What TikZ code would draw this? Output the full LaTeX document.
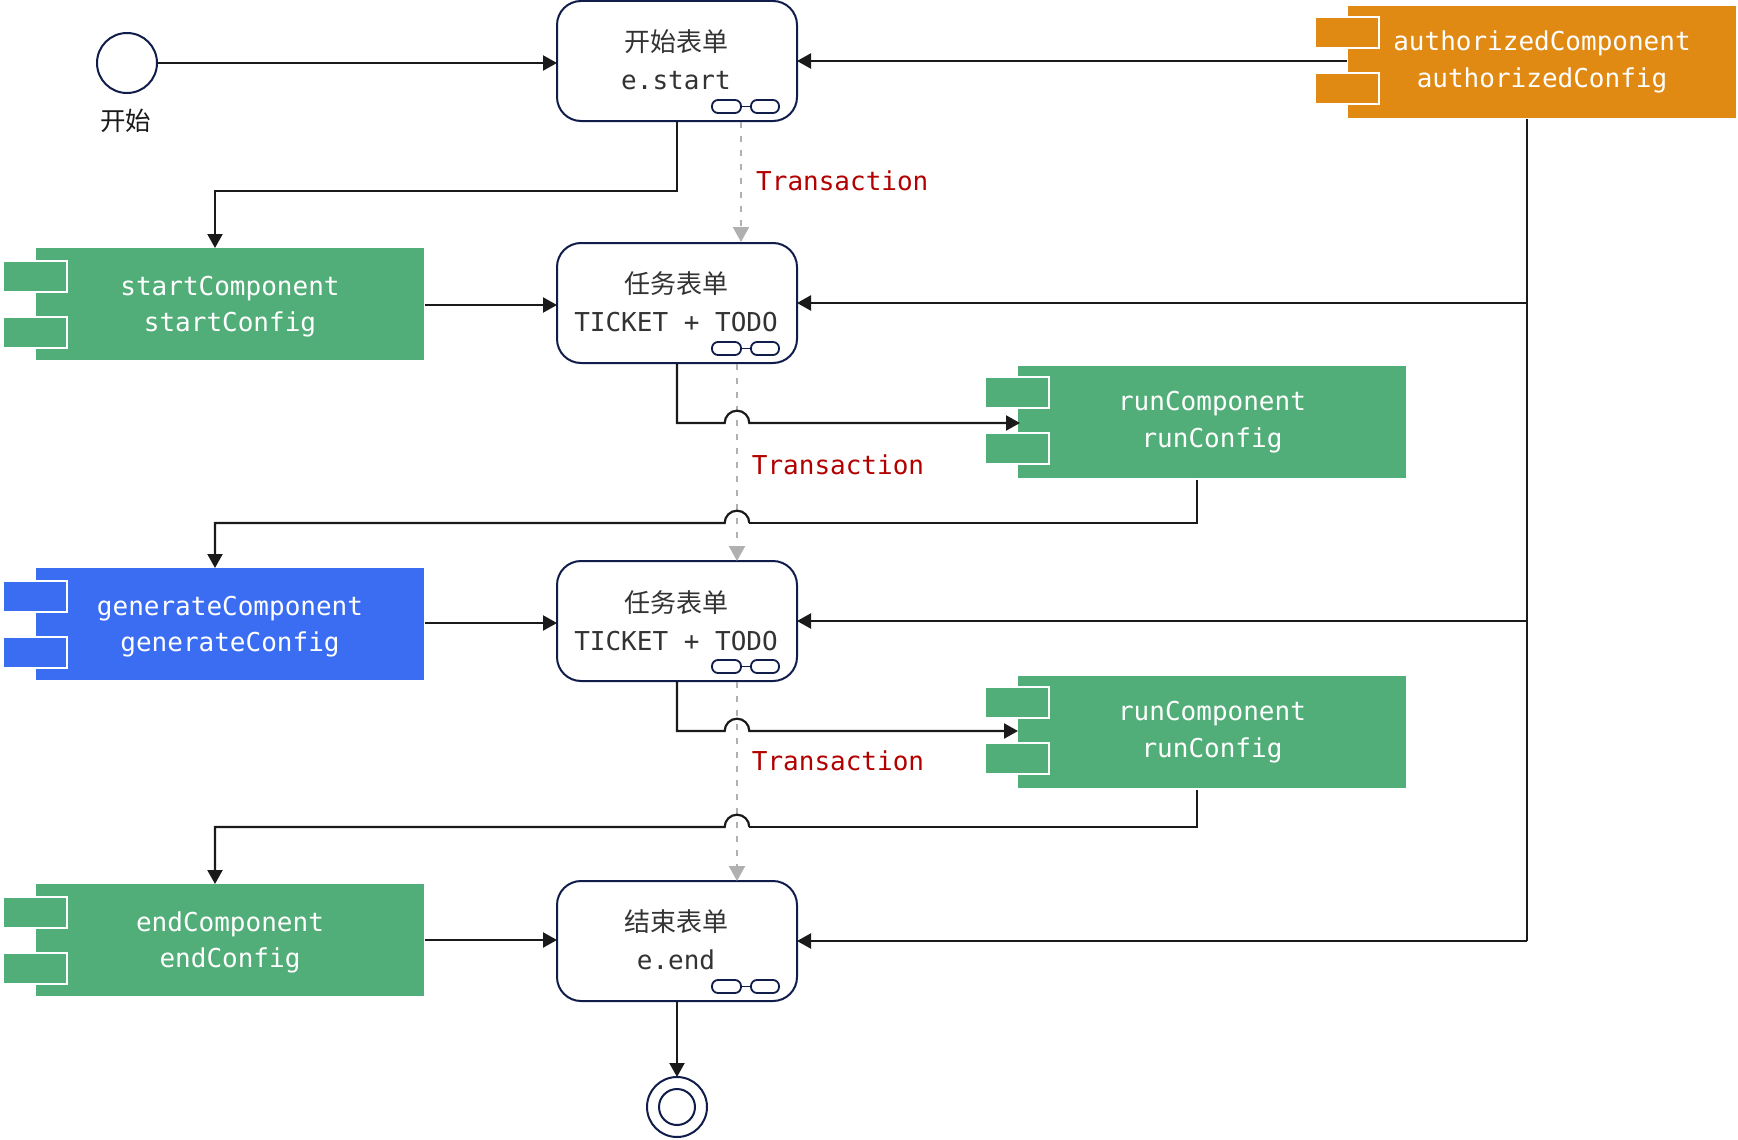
\documentclass[tikz,border=0pt]{standalone}
\usepackage{fontspec}
\setmainfont{DejaVu Sans Mono}
\newfontfamily\cjk{Noto Sans CJK SC}
\usetikzlibrary{arrows.meta}
\definecolor{navy}{HTML}{101D4B}
\definecolor{ink}{HTML}{1A1A1A}
\definecolor{greyline}{HTML}{B0B0B0}
\definecolor{txt}{HTML}{333333}
\definecolor{redtxt}{HTML}{B20000}
\definecolor{cgreen}{HTML}{52AE78}
\definecolor{cblue}{HTML}{3A6DF2}
\definecolor{corange}{HTML}{E08A14}
\newcommand\twolines[3][6]{\rule{0pt}{24.5pt}#2\\#3\rule[-#1pt]{0pt}{#1pt}}
\newcommand\tasklines[3][6]{\rule{0pt}{24.5pt}{\cjk #2}\kern2pt\\#3\kern2pt\rule[-#1pt]{0pt}{#1pt}}
\tikzset{
  x=1pt,y=1pt,
  taskfont/.style={font=\fontsize{26}{38}\selectfont},
  compfont/.style={font=\fontsize{26}{36.5}\selectfont},
  taskbox/.style={draw=navy,line width=2pt,fill=white,rounded corners=24pt,minimum width=240pt,minimum height=120pt,inner sep=0pt,outer sep=0pt,align=center,text=txt,taskfont},
  compmain/.style={fill=#1,minimum width=388pt,minimum height=112pt,inner sep=0pt,outer sep=0pt,align=center,text=white,compfont},
  compport/.style={fill=#1,draw=white,line width=2pt,minimum width=64pt,minimum height=31pt,inner sep=0pt,outer sep=0pt},
  conn/.style={draw=ink,line width=2.2pt,-{Triangle[length=14pt,width=15pt]}},
  plainconn/.style={draw=ink,line width=2.2pt},
  tx/.style={draw=greyline,line width=2.2pt,dash pattern=on 6pt off 8pt,-{Triangle[length=15pt,width=16pt,color=greyline,sep=0pt]}},
  txlabel/.style={anchor=base west,text=redtxt,inner sep=0pt,compfont},
  circ/.style={draw=navy,line width=2pt,fill=white,circle,inner sep=0pt,outer sep=0pt},
  iconlink/.style={draw=navy,line width=1.8pt,rounded corners=6pt},
  link/.style={draw=navy,line width=1.8pt}
}
% name, left x, top y, colour, port offset, text
\newcommand\compnode[6]{%
  \node[compmain=#4] (#1) at (#2+194,-#3-56) {#6};
  \node[compport=#4] (#1p1) at (#2-1,-#3-#5) {};
  \node[compport=#4] (#1p2) at (#2-1,-#3-56-#5) {};
}
\newcommand\linkicon[1]{%
  \draw[iconlink] ([shift={(35,8)}]#1.south) rectangle ([shift={(64,21)}]#1.south);
  \draw[iconlink] ([shift={(74,8)}]#1.south) rectangle ([shift={(102,21)}]#1.south);
  \draw[link] ([shift={(64,14.5)}]#1.south) -- ([shift={(74,14.5)}]#1.south);
}
\begin{document}
\begin{tikzpicture}
\useasboundingbox (0,0) rectangle (1738,-1140);
% task boxes
\node[taskbox] (b1) at (677,-61) {\tasklines{开始表单}{e.start}};
\node[taskbox] (b2) at (677,-303) {\tasklines{任务表单}{TICKET + TODO}};
\node[taskbox] (b3) at (677,-621) {\tasklines[2.6]{任务表单}{TICKET + TODO}};
\node[taskbox] (b4) at (677,-941) {\tasklines{结束表单}{e.end}};
\linkicon{b1}\linkicon{b2}\linkicon{b3}\linkicon{b4}
% transaction links
\coordinate (tA1) at (741,-122);
\coordinate (tB1) at (741,-242);
\coordinate (tA2) at (737,-364);
\coordinate (tB2) at (737,-561);
\coordinate (tA3) at (737,-682);
\coordinate (tB3) at (737,-881);
\draw[tx] (tA1) -- (tB1);
\draw[tx] (tA2) -- (tB2);
\draw[tx] (tA3) -- (tB3);
% components
\compnode{start}{36}{248}{cgreen}{28.7}{\twolines{startComponent}{startConfig}}
\compnode{gen}{36}{568}{cblue}{28.7}{\twolines{generateComponent}{generateConfig}}
\compnode{endc}{36}{884}{cgreen}{28.7}{\twolines{endComponent}{endConfig}}
\compnode{run1}{1018}{366}{cgreen}{26.7}{\twolines[10.6]{runComponent}{runConfig}}
\compnode{run2}{1018}{676}{cgreen}{26.7}{\twolines[10.6]{runComponent}{runConfig}}
\compnode{auth}{1348}{6}{corange}{26.7}{\twolines[10.6]{authorizedComponent}{authorizedConfig}}
% start / end events
\node[circ,minimum size=60pt] (s) at (127,-63) {};
\node[text=ink,inner sep=0pt,font=\fontsize{25.5}{30}\selectfont\cjk] (slabel) at (125.5,-120.5) {开始};
\node[circ,minimum size=60pt] (e) at (677,-1107) {};
\node[circ,minimum size=36pt] (ei) at (677,-1107) {};
% connectors
\draw[conn] (s.east) -- (s.east -| b1.west);
\draw[conn] ([shift={(-1,1)}]auth.west) -- ([yshift=1]auth.west -| b1.east);
\coordinate (c1) at (677,-191);
\draw[conn] (b1.south) -- (c1) -| (215,0 |- start.north);
\draw[conn] ([shift={(0.5,-1)}]start.east) -- ([yshift=-1]start.east -| b2.west);
\draw[conn] ([shift={(0.5,1)}]gen.east) -- ([yshift=1]gen.east -| b3.west);
\draw[conn] ([xshift=0.5]endc.east) -- (endc.east -| b4.west);
\draw[conn] (b4.south) -- (e.north);
% authorized bus
\coordinate (busT) at (1527,-119);
\coordinate (busE) at (1527,-941);
\draw[plainconn] (busT) -- (busE);
\draw[conn] (busE) -- (b4.east);
\draw[conn] (1527,-303) -- (b2.east);
\draw[conn] (1527,-621) -- (b3.east);
% jumps
\def\jr{12.3}
\coordinate (j1) at (724.7,-423);
\draw[conn] (b2.south) |- (j1) arc[start angle=180,end angle=0,radius=\jr] -- ([shift={(2,-1)}]run1.west);
\coordinate (j2) at (749.3,-523);
\coordinate (k2) at (1197,-523);
\draw[plainconn] ([yshift=-1.5]run1.south -| k2) -- (k2) -- (j2);
\draw[conn] (j2) arc[start angle=0,end angle=180,radius=\jr] -| (215,0 |- gen.north);
\coordinate (j3) at (724.7,-731);
\draw[conn] (b3.south) |- (j3) arc[start angle=180,end angle=0,radius=\jr] -- ([yshift=1]run2.west);
\coordinate (j4) at (749.3,-827);
\coordinate (k4) at (1197,-827);
\draw[plainconn] ([yshift=-1.5]run2.south -| k4) -- (k4) -- (j4);
\draw[conn] (j4) arc[start angle=0,end angle=180,radius=\jr] -| (215,0 |- endc.north);
% labels
\node[txlabel] (t1) at (756,-190) {Transaction};
\node[txlabel] (t2) at (751.7,-474) {Transaction};
\node[txlabel] (t3) at (751.7,-770) {Transaction};
\end{tikzpicture}
\end{document}
